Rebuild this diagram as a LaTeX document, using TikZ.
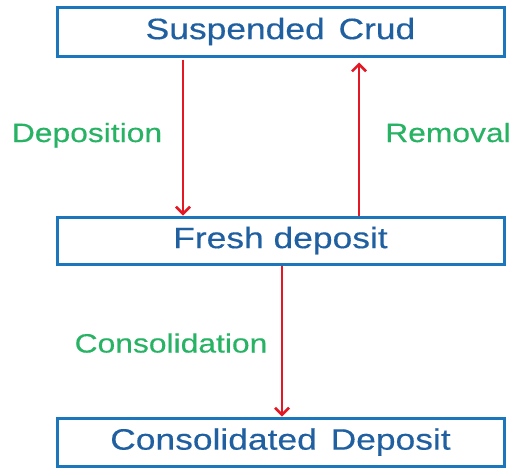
\documentclass[tikz,border=0pt]{standalone}
\usepackage{fontspec}
\setmainfont{Liberation Sans}[FakeStretch=1.2,FakeBold=0.4]
\usetikzlibrary{arrows.meta}
\definecolor{boxblue}{RGB}{28,118,188}
\definecolor{txtblue}{RGB}{32,96,160}
\definecolor{lblgreen}{RGB}{40,178,100}
\definecolor{arrred}{RGB}{228,24,36}
\tikzset{
  stagebox/.style={draw=boxblue, line width=3pt, minimum width=447pt, inner sep=0pt,
    text=txtblue, font=\fontsize{29.5}{34}\selectfont},
  flow/.style={draw=arrred, line width=2.5pt, -{Straight Barb[length=7pt,width=14pt,line width=2.5pt]}},
  lbl/.style={text=lblgreen, font=\fontsize{26.5}{30}\selectfont, anchor=base, inner sep=0pt}
}
\begin{document}
\begin{tikzpicture}[x=1pt,y=1pt]
\useasboundingbox (0,0) rectangle (513,-467);
\node[stagebox, minimum height=49pt] (b1) at (280.5,-31.5) {Suspended\hspace{4pt} Crud};
\node[stagebox, minimum height=47pt] (b2) at (280.5,-240.5) {Fresh deposit};
\node[stagebox, minimum height=48pt] (b3) at (280.5,-442) {Consolidated\hspace{4pt} Deposit};
\draw[flow] ([xshift=-97.5pt,yshift=-2pt]b1.south) -- ([xshift=-97.5pt]b2.north);
\draw[flow] ([xshift=78.5pt]b2.north) -- ([xshift=78.5pt,yshift=-5pt]b1.south);
\draw[flow] ([xshift=1.5pt]b2.south) -- ([xshift=1.5pt]b3.north);
\node[lbl] (dep) at (87,-142) {Deposition};
\node[lbl] (rem) at (448,-142) {Removal};
\node[lbl] (con) at (171,-352.5) {Consolidation};
\end{tikzpicture}
\end{document}
